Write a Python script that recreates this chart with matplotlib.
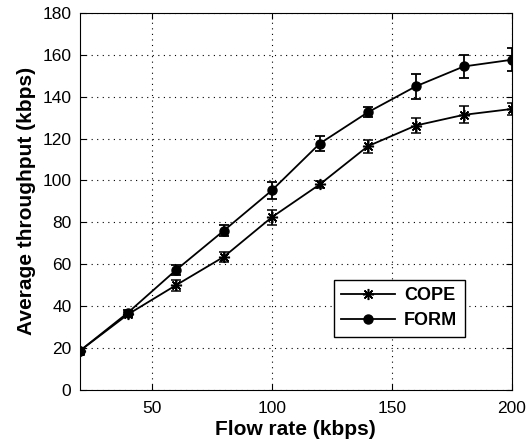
import matplotlib.pyplot as plt
from matplotlib.lines import Line2D

plt.rcParams['font.family'] = ['Liberation Sans', 'DejaVu Sans']

flow_rate = [20, 40, 60, 80, 100, 120, 140, 160, 180, 200]
cope = [18.6, 36.0, 49.9, 63.5, 82.4, 98.1, 116.3, 126.2, 131.3, 134.1]
cope_err = [1.0, 1.0, 2.5, 2.5, 3.5, 1.5, 3.0, 3.5, 4.0, 2.8]
form = [18.6, 36.8, 57.1, 76.0, 95.2, 117.6, 132.5, 144.9, 154.4, 157.6]
form_err = [1.0, 1.5, 2.5, 2.6, 4.2, 3.6, 2.4, 6.0, 5.5, 5.5]

fig = plt.figure(figsize=(5.32, 4.43), dpi=100)
ax = fig.add_axes([0.150, 0.120, 0.812, 0.851])

star = (8, 2, 0)
ax.errorbar(flow_rate, cope, yerr=cope_err, color='black', marker=star,
            markersize=8, markeredgewidth=1.1, linewidth=1.3, capsize=3.5,
            elinewidth=1.3, capthick=1.3)
ax.errorbar(flow_rate, form, yerr=form_err, color='black', marker='o',
            markersize=6.5, linewidth=1.3, capsize=3.5,
            elinewidth=1.3, capthick=1.3)

ax.set_xlim(20, 200)
ax.set_ylim(0, 180)
ax.set_xticks([50, 100, 150, 200])
ax.set_yticks(range(0, 181, 20))
ax.tick_params(direction='in', labelsize=12.5, length=4, top=True, right=True)
ax.tick_params(axis='x', pad=8)
ax.tick_params(axis='y', pad=6)
ax.grid(True, linestyle=(0, (1, 4)), color='black', linewidth=0.8)

ax.set_xlabel('Flow rate (kbps)', fontsize=15, fontweight='bold', labelpad=3)
ax.set_ylabel('Average throughput (kbps)', fontsize=15, fontweight='bold', labelpad=5)

handles = [
    Line2D([], [], color='black', marker=star, markersize=8, markeredgewidth=1.1, linewidth=1.3),
    Line2D([], [], color='black', marker='o', markersize=6.5, linewidth=1.3),
]
leg = ax.legend(handles, ['COPE', 'FORM'], loc='lower right',
                bbox_to_anchor=(0.891, 0.141), borderaxespad=0, fancybox=False,
                edgecolor='black', framealpha=1, prop={'weight': 'bold', 'size': 13},
                handlelength=3.0, borderpad=0.4, labelspacing=0.45, handletextpad=0.5)
leg.get_frame().set_linewidth(1.0)

fig.savefig('out.png', dpi=100)
